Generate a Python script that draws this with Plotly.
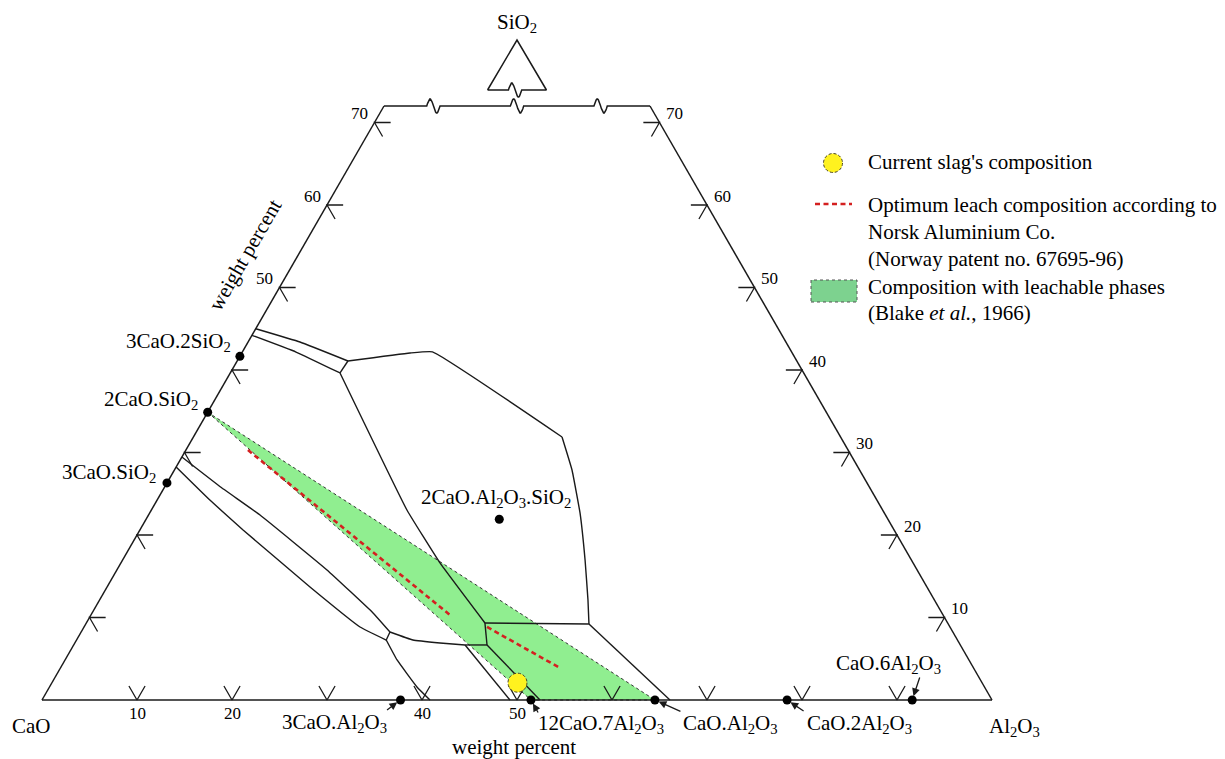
import numpy as np
import plotly.graph_objects as go

W, H = 1225, 759
SERIF = "Liberation Serif"
INK = "#1a1a1a"
LABEL_SIZE = 21
TICK_SIZE = 17

# ---------------------------------------------------------------------------
# Compositions in wt% given as (Al2O3, SiO2); CaO is the balance to 100.
# ---------------------------------------------------------------------------
compound_names = [
    "3CaO.2SiO<sub>2</sub>", "2CaO.SiO<sub>2</sub>", "3CaO.SiO<sub>2</sub>",
    "2CaO.Al<sub>2</sub>O<sub>3</sub>.SiO<sub>2</sub>",
    "3CaO.Al<sub>2</sub>O<sub>3</sub>", "12CaO.7Al<sub>2</sub>O<sub>3</sub>",
    "CaO.Al<sub>2</sub>O<sub>3</sub>", "CaO.2Al<sub>2</sub>O<sub>3</sub>",
    "CaO.6Al<sub>2</sub>O<sub>3</sub>",
]
compound_al2o3 = [0.0, 0.0, 0.0, 37.18, 37.74, 51.47, 64.52, 78.43, 91.60]
compound_sio2 = [41.66, 34.88, 26.31, 21.91, 0.0, 0.0, 0.0, 0.0, 0.0]

# current slag
slag_al2o3 = [49.0]
slag_sio2 = [2.1]

# optimum leach composition (Norsk Aluminium Co.)
leach_upper = [(6.53, 30.30), (37.80, 10.30)]
leach_lower = [(42.42, 8.85), (52.59, 3.88)]

# phase boundaries of the CaO-Al2O3-SiO2 liquidus projection
bnd_c3s2_a = [(0.0, 45.0), (5.46, 43.39), (11.66, 41.09)]
bnd_c3s2_b = [(0.0, 44.2), (5.65, 42.18), (11.55, 39.64)]
bnd_c3s2_end = [(11.66, 41.09), (11.55, 39.64)]
bnd_gehl_top = [(11.66, 41.09), (17.71, 42.06), (20.0, 42.2), (38.80, 31.88)]
bnd_gehl_right = [(38.80, 31.88), (41.85, 27.88), (45.30, 22.67), (48.68, 16.97),
                  (51.41, 12.12), (52.97, 9.21)]
bnd_ca_left = [(52.97, 9.21), (66.10, 0.0)]
bnd_gehl_bottom = [(41.96, 9.33), (52.97, 9.21)]
bnd_c2s_right = [(11.55, 39.64), (26.90, 23.03), (33.59, 16.61), (41.96, 9.33)]
bnd_j1_j2 = [(41.96, 9.33), (43.51, 6.67)]
bnd_j2_left = [(43.51, 6.67), (41.20, 6.67)]
bnd_c3a_top = [(32.51, 8.24), (35.41, 7.27), (38.44, 6.91), (41.20, 6.67)]
bnd_c12a7_a = [(41.20, 6.67), (49.26, 0.0)]
bnd_c12a7_b = [(43.51, 6.67), (52.42, 0.0)]
bnd_c3s_a = [(0.0, 29.45), (6.0, 25.75), (11.74, 22.42), (22.12, 15.76), (29.57, 10.55),
             (32.51, 8.24)]
bnd_c3s_b = [(0.0, 28.24), (5.6, 24.2), (10.86, 20.61), (21.36, 13.70), (29.05, 8.85),
             (32.60, 7.27)]
bnd_c3s_end = [(32.51, 8.24), (32.60, 7.27)]
bnd_c3a_right = [(32.60, 7.27), (34.95, 4.85), (38.68, 1.58), (40.84, 0.0)]

boundaries = [bnd_c3s2_a, bnd_c3s2_b, bnd_c3s2_end, bnd_gehl_top, bnd_gehl_right,
              bnd_ca_left, bnd_gehl_bottom, bnd_c2s_right, bnd_j1_j2, bnd_j2_left,
              bnd_c3a_top, bnd_c12a7_a, bnd_c12a7_b, bnd_c3s_a, bnd_c3s_b,
              bnd_c3s_end, bnd_c3a_right]

# axis ticks (wt%)
side_ticks = [10, 20, 30, 40, 50, 60, 70]
base_ticks = [10, 20, 30, 40, 50, 60, 70, 80, 90]
left_tick_labels = [50, 60, 70]
right_tick_labels = [10, 20, 30, 40, 50, 60, 70]
base_tick_labels = [10, 20, 40, 50]

SIO2_CUT = 72.0  # diagram is truncated at this SiO2 content

# ---------------------------------------------------------------------------
# geometry helpers: composition -> cartesian (x along base, y = SiO2 height)
# ---------------------------------------------------------------------------
X_PX0, X_SCALE = 42.0, 9.5      # CaO corner pixel and pixels per wt%
Y_PX0, Y_SCALE = 700.0, 8.25


def to_xy(al, si):
    return al + si / 2.0, si


def polyline(segments):
    xs, ys = [], []
    for seg in segments:
        for a, s in seg:
            x, y = to_xy(a, s)
            xs.append(x)
            ys.append(y)
        xs.append(None)
        ys.append(None)
    return xs, ys


def paper(px, py):
    return px / W, 1.0 - py / H


fig = go.Figure()

# leachable-phase field: 2CaO.SiO2 - 12CaO.7Al2O3 - CaO.Al2O3
tri = [1, 5, 6, 1]
gx, gy = zip(*[to_xy(compound_al2o3[i], compound_sio2[i]) for i in tri])
fig.add_trace(go.Scatter(x=gx, y=gy, mode="lines", fill="toself",
                         fillcolor="#90ee90",
                         line=dict(color="#333333", width=1, dash="dot"),
                         hoverinfo="skip"))

# triangle frame
frame = [[(0, 0), (100, 0)], [(0, 0), (0, SIO2_CUT)], [(100, 0), (100 - SIO2_CUT, SIO2_CUT)]]
fx, fy = polyline(frame)
fig.add_trace(go.Scatter(x=fx, y=fy, mode="lines", line=dict(color=INK, width=1.5),
                         hoverinfo="skip"))

# truncated top edge with break marks, and the small apex triangle
BW, BA = 1.4, 0.85


def broken(x_start, x_end, y, centers):
    xs, ys = [x_start], [y]
    t = np.linspace(0, 1, 19)
    for c in centers:
        xs += list(c - BW / 2 + BW * t)
        ys += list(y + BA * np.sin(2 * np.pi * t))
    xs.append(x_end)
    ys.append(y)
    return xs, ys


x_left, _ = to_xy(0, SIO2_CUT)
x_right, _ = to_xy(100 - SIO2_CUT, SIO2_CUT)
tx, ty = broken(x_left, x_right, SIO2_CUT, [41.2, 50.0, 58.8])
fig.add_trace(go.Scatter(x=tx, y=ty, mode="lines", line=dict(color=INK, width=1.5),
                         hoverinfo="skip"))
apex_base, apex_top, apex_half = 73.94, 80.0, 3.1
ax_, ay_ = broken(50 - apex_half, 50 + apex_half, apex_base, [49.8])
ax_ += [50.0, 50 - apex_half]
ay_ += [apex_top, apex_base]
fig.add_trace(go.Scatter(x=ax_, y=ay_, mode="lines", line=dict(color=INK, width=1.5),
                         hoverinfo="skip"))

# ticks: two short arms along the grid directions
TICK = 1.7
tick_segs = []
for s in side_ticks:
    tick_segs.append([(TICK, s), (0, s), (TICK, s - TICK)])
    tick_segs.append([(100 - s - TICK, s), (100 - s, s), (100 - s, s - TICK)])
for a in base_ticks:
    tick_segs.append([(a - TICK, TICK), (a, 0), (a, TICK)])
kx, ky = polyline(tick_segs)
fig.add_trace(go.Scatter(x=kx, y=ky, mode="lines", line=dict(color=INK, width=1.3),
                         hoverinfo="skip"))

# phase boundaries
bx, by = polyline(boundaries)
fig.add_trace(go.Scatter(x=bx, y=by, mode="lines",
                         line=dict(color=INK, width=1.4, shape="spline", smoothing=0.3),
                         hoverinfo="skip"))

# optimum leach composition
lx, ly = polyline([leach_upper, leach_lower])
fig.add_trace(go.Scatter(x=lx, y=ly, mode="lines",
                         line=dict(color="#d42020", width=2.6, dash="5px,3.5px"),
                         hoverinfo="skip"))

# compound points
cx, cy = to_xy(np.array(compound_al2o3), np.array(compound_sio2))
fig.add_trace(go.Scatter(x=cx, y=cy, mode="markers",
                         marker=dict(color="black", size=9), hoverinfo="skip"))

# current slag
sx, sy = to_xy(np.array(slag_al2o3), np.array(slag_sio2))
fig.add_trace(go.Scatter(x=sx, y=sy, mode="markers",
                         marker=dict(color="#fff21f", size=19, line=dict(width=0)),
                         hoverinfo="skip"))

shapes = []
for x, y in zip(sx, sy):
    shapes.append(dict(type="circle", xref="x", yref="y", xsizemode="pixel",
                       ysizemode="pixel", xanchor=x, yanchor=y,
                       x0=-9.5, x1=9.5, y0=-9.5, y1=9.5,
                       line=dict(color="#4a4520", width=1, dash="3px,2px")))

annotations = []


def text(px, py, s, size=LABEL_SIZE, **kw):
    x, y = paper(px, py)
    d = dict(x=x, y=y, xref="paper", yref="paper", text=s, showarrow=False,
             xanchor="center", yanchor="middle",
             font=dict(family=SERIF, size=size, color="black"))
    d.update(kw)
    annotations.append(d)


# compound labels: (xanchor, xshift, yshift, arrow dx, arrow dy)
label_layout = [
    ("right", -7, 14, None, None),
    ("right", -8, 12, None, None),
    ("right", -9, 10, None, None),
    ("center", -3, 21, None, None),
    ("center", -66, -23, -15, 11),
    ("center", 70, -24, 8, 14),
    ("center", 76, -24, 27, 12),
    ("center", 72, -24, 18, 12),
    ("center", -24, 36, 8, -24),
]
for name, x, y, (xa, dx, dy, adx, ady) in zip(compound_names, cx, cy, label_layout):
    annotations.append(dict(x=x, y=y, xref="x", yref="y", text=name, showarrow=False,
                            xanchor=xa, yanchor="middle", xshift=dx, yshift=dy,
                            font=dict(family=SERIF, size=LABEL_SIZE, color="black")))
    if adx is not None:
        annotations.append(dict(x=x, y=y, xref="x", yref="y", text="", showarrow=True,
                                ax=adx, ay=ady, axref="pixel", ayref="pixel",
                                arrowhead=2, arrowsize=1.2, arrowwidth=1.3,
                                arrowcolor=INK, standoff=4))

# tick labels
for s in left_tick_labels:
    x, y = to_xy(0, s)
    annotations.append(dict(x=x, y=y, xref="x", yref="y", text=str(s), showarrow=False,
                            xanchor="center", yanchor="middle", xshift=-15, yshift=9,
                            font=dict(family=SERIF, size=TICK_SIZE, color="black")))
for s in right_tick_labels:
    x, y = to_xy(100 - s, s)
    annotations.append(dict(x=x, y=y, xref="x", yref="y", text=str(s), showarrow=False,
                            xanchor="center", yanchor="middle", xshift=15, yshift=9,
                            font=dict(family=SERIF, size=TICK_SIZE, color="black")))
for a in base_tick_labels:
    x, y = to_xy(a, 0)
    annotations.append(dict(x=x, y=y, xref="x", yref="y", text=str(a), showarrow=False,
                            xanchor="center", yanchor="middle", yshift=-13,
                            font=dict(family=SERIF, size=TICK_SIZE, color="black")))

# corner and axis titles
text(31, 726, "CaO")
text(1014, 727, "Al<sub>2</sub>O<sub>3</sub>")
text(517, 23, "SiO<sub>2</sub>")
text(514, 747, "weight percent")
text(245, 255, "weight percent", textangle=-60)

# legend
lx0, ly0 = paper(823.5, 153.5)
lx1, ly1 = paper(842.5, 172.5)
shapes.append(dict(type="circle", xref="paper", yref="paper", x0=lx0, x1=lx1,
                   y0=ly1, y1=ly0, fillcolor="#fff21f",
                   line=dict(color="#4a4520", width=1, dash="3px,2px")))
rx0, ry = paper(815, 204)
rx1, _ = paper(852, 204)
shapes.append(dict(type="line", xref="paper", yref="paper", x0=rx0, x1=rx1, y0=ry, y1=ry,
                   line=dict(color="#d42020", width=2.6, dash="5px,3.5px")))
gx0, gy0 = paper(811, 280)
gx1, gy1 = paper(857, 302)
shapes.append(dict(type="rect", xref="paper", yref="paper", x0=gx0, x1=gx1, y0=gy1, y1=gy0,
                   fillcolor="#7dd28f", line=dict(color="#555555", width=1, dash="dot")))

legend_lines = [
    (162, "Current slag's composition"),
    (205, "Optimum leach composition according to"),
    (232, "Norsk Aluminium Co."),
    (259, "(Norway patent no. 67695-96)"),
    (287, "Composition with leachable phases"),
    (313, "(Blake <i>et al.</i>, 1966)"),
]
for py, s in legend_lines:
    text(866, py, s, xanchor="left")

fig.update_layout(
    width=W, height=H, margin=dict(l=0, r=0, t=0, b=0),
    paper_bgcolor="white", plot_bgcolor="white", showlegend=False,
    xaxis=dict(range=[-X_PX0 / X_SCALE, (W - X_PX0) / X_SCALE], visible=False,
               fixedrange=True),
    yaxis=dict(range=[(Y_PX0 - H) / Y_SCALE, Y_PX0 / Y_SCALE], visible=False,
               fixedrange=True),
    shapes=shapes, annotations=annotations,
)

fig.write_html("out.html")
